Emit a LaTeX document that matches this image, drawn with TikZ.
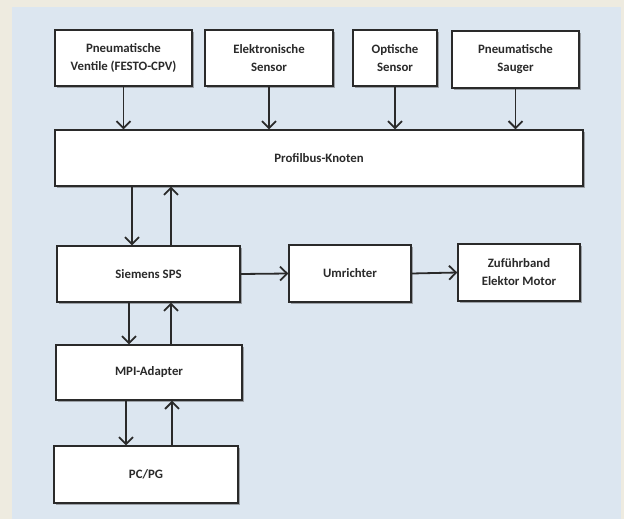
\documentclass[tikz,border=0pt]{standalone}
\usepackage{fontspec}
\setmainfont{Carlito}
\usetikzlibrary{arrows.meta,shadows}
\definecolor{beige}{HTML}{EEEBE0}
\definecolor{panel}{HTML}{DCE6F0}
\definecolor{ink}{HTML}{2A2A2A}
\tikzset{
  blk/.style={draw=ink, line width=1.4pt, fill=white, rectangle, align=center,
    text=ink, inner sep=2pt,
    font=\fontsize{12.8}{18}\selectfont\bfseries,
    drop shadow={shadow xshift=1.6pt, shadow yshift=-1.6pt, opacity=0.45, fill=black!70}},
  arr/.style={draw=ink, line width=1.8pt, line cap=butt,
    -{Straight Barb[length=7pt,width=14pt]}}
}
\begin{document}
\begin{tikzpicture}[x=1pt,y=-1pt]
\useasboundingbox (0,0) rectangle (624,519);
\fill[beige] (0,0) rectangle (624,519);
\fill[panel] (12,7) rectangle (621,519);

\node[blk, minimum width=137pt, minimum height=56pt] (b1) at (123.5,58) {Pneumatische\\Ventile (FESTO-CPV)};
\node[blk, minimum width=128pt, minimum height=56pt] (b2) at (269,58) {Elektronische\\Sensor};
\node[blk, minimum width=84pt, minimum height=56pt] (b3) at (395,58) {Optische\\Sensor};
\node[blk, minimum width=127pt, minimum height=57pt] (b4) at (515.5,59.5) {Pneumatische\\Sauger};
\node[blk, minimum width=528pt, minimum height=56pt] (pk) at (319,158) {Profilbus-Knoten};
\node[blk, minimum width=183pt, minimum height=56pt] (sps) at (148.5,274) {Siemens SPS};
\node[blk, minimum width=122pt, minimum height=57pt] (um) at (350,273.5) {Umrichter};
\node[blk, minimum width=122pt, minimum height=57pt] (zb) at (519,272.5) {Zuführband\\Elektor Motor};
\node[blk, minimum width=186pt, minimum height=55pt] (mpi) at (149,372.5) {MPI-Adapter};
\node[blk, minimum width=184pt, minimum height=57pt] (pc) at (146,474.5) {PC/PG};

\draw[arr] (b1.south) -- (b1.south |- pk.north);
\draw[arr] (b2.south) -- (b2.south |- pk.north);
\draw[arr] (b3.south) -- (b3.south |- pk.north);
\draw[arr] (b4.south) -- (b4.south |- pk.north);

\draw[arr] (132,0 |- pk.south) -- (132,0 |- sps.north);
\draw[arr] (171,0 |- sps.north) -- (171,0 |- pk.south);
\draw[arr] (129,0 |- sps.south) -- (129,0 |- mpi.north);
\draw[arr] (171,0 |- mpi.north) -- (171,0 |- sps.south);
\draw[arr] (126,0 |- mpi.south) -- (126,0 |- pc.north);
\draw[arr] (172,0 |- pc.north) -- (172,0 |- mpi.south);

\draw[arr] (sps.east) -- (um.west);
\draw[arr] (um.east) -- (zb.west);
\end{tikzpicture}
\end{document}
